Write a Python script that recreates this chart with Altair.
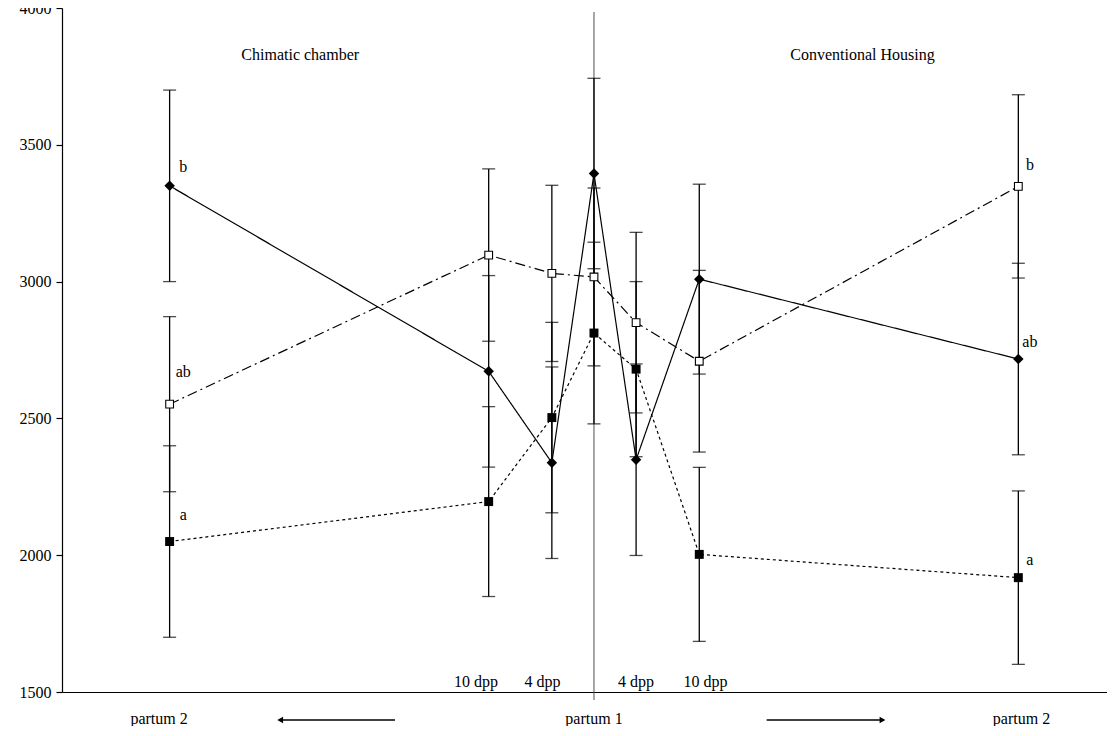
import altair as alt
import pandas as pd

FONT = "Liberation Serif"

# x positions (days relative to partum 1; partum 2 placed at the ends)
positions = [-40.3, -10, -4, 0, 4, 10, 40.3]

diamond_mean = [3350, 2672, 2338, 3395, 2349, 3009, 2717]
diamond_err = [350, 350, 350, 348, 350, 347, 350]
open_mean = [2552, 3097, 3030, 3017, 2850, 2709, 3348]
open_err = [320, 315, 322, 325, 330, 332, 335]
filled_mean = [2050, 2196, 2503, 2812, 2680, 2003, 1918]
filled_err = [350, 347, 348, 332, 320, 318, 317]

series_names = ["diamond", "open", "filled"]
series_dash = [[1, 0], [10, 4, 2, 4], [3, 3]]

letter_text = ["b", "ab", "a", "b", "ab", "a"]
letter_pos = [-39.0, -39.0, -39.0, 41.4, 41.4, 41.4]
letter_val = [3419, 2670, 2147, 3426, 2779, 1982]

group_titles = ["Chimatic chamber", "Conventional Housing"]
group_title_pos = [-27.9, 25.5]
group_title_val = [3828, 3828]

dpp_labels = ["10 dpp", "4 dpp", "4 dpp", "10 dpp"]
dpp_label_pos = [-11.2, -4.9, 4.0, 10.6]

partum_labels = ["partum 2", "partum 1", "partum 2"]
partum_label_pos = [-41.3, 0, 40.6]

arrow_start = [-18.9, 16.4]
arrow_end = [-29.8, 27.4]
arrow_head = ["triangle-left", "triangle-right"]

rows = []
for name, means, errs in [("diamond", diamond_mean, diamond_err),
                          ("open", open_mean, open_err),
                          ("filled", filled_mean, filled_err)]:
    for p, m, e in zip(positions, means, errs):
        rows.append(dict(series=name, pos=p, value=m, lo=m - e, hi=m + e))
df = pd.DataFrame(rows)

W, H = 1045, 684
xscale = alt.Scale(domain=[-50.52, 48.72], nice=False, zero=False)
yscale = alt.Scale(domain=[1500, 4000], nice=False, zero=False)

X = alt.X("pos:Q", scale=xscale,
          axis=alt.Axis(title=None, labels=False, ticks=False, grid=False,
                        domainColor="black", domainWidth=1.2))
Y = alt.Y("value:Q", scale=yscale,
          axis=alt.Axis(title=None, values=[1500, 2000, 2500, 3000, 3500, 4000],
                        format="d",
                        grid=False, tickSize=6, tickColor="black", tickWidth=1.2,
                        domainColor="black", domainWidth=1.2, labelFont=FONT,
                        labelFontSize=16, labelColor="black", labelPadding=5,
                        labelFlush=False))

base = alt.Chart(df)

center_line = alt.Chart(pd.DataFrame({"pos": [0]})).mark_rule(
    color="#505050", strokeWidth=1
).encode(x=alt.X("pos:Q", scale=xscale), y=alt.value(4), y2=alt.value(H + 8))

err_rule = base.mark_rule(color="black", strokeWidth=1.3).encode(
    x=X, y=alt.Y("lo:Q", scale=yscale), y2="hi:Q")
cap_lo = base.mark_tick(orient="horizontal", color="black", size=13, thickness=1.3).encode(
    x=alt.X("pos:Q", scale=xscale), y=alt.Y("lo:Q", scale=yscale))
cap_hi = base.mark_tick(orient="horizontal", color="black", size=13, thickness=1.3).encode(
    x=alt.X("pos:Q", scale=xscale), y=alt.Y("hi:Q", scale=yscale))

lines = base.mark_line(color="black", strokeWidth=1.2).encode(
    x=X, y=Y, detail="series:N",
    strokeDash=alt.StrokeDash("series:N",
                              scale=alt.Scale(domain=series_names, range=series_dash),
                              legend=None),
    order="pos:Q")

pts_d = base.transform_filter(alt.datum.series == "diamond").mark_point(
    shape="diamond", filled=True, color="black", size=110, opacity=1
).encode(x=X, y=Y)
pts_o = base.transform_filter(alt.datum.series == "open").mark_point(
    shape="square", filled=True, fill="white", stroke="black", strokeWidth=1.1,
    size=60, opacity=1
).encode(x=X, y=Y)
pts_f = base.transform_filter(alt.datum.series == "filled").mark_point(
    shape="square", filled=True, color="black", size=80, opacity=1
).encode(x=X, y=Y)

letters = alt.Chart(pd.DataFrame({"t": letter_text, "pos": letter_pos, "v": letter_val})).mark_text(
    font=FONT, fontSize=16, color="black", align="center", baseline="middle"
).encode(x=alt.X("pos:Q", scale=xscale), y=alt.Y("v:Q", scale=yscale), text="t:N")

titles = alt.Chart(pd.DataFrame({"t": group_titles, "pos": group_title_pos, "v": group_title_val})).mark_text(
    font=FONT, fontSize=16, color="black", align="center", baseline="middle"
).encode(x=alt.X("pos:Q", scale=xscale), y=alt.Y("v:Q", scale=yscale), text="t:N")

dpp = alt.Chart(pd.DataFrame({"t": dpp_labels, "pos": dpp_label_pos})).mark_text(
    font=FONT, fontSize=16, color="black", align="center", baseline="alphabetic"
).encode(x=alt.X("pos:Q", scale=xscale), y=alt.value(H - 5), text="t:N")

partum = alt.Chart(pd.DataFrame({"t": partum_labels, "pos": partum_label_pos})).mark_text(
    font=FONT, fontSize=16, color="black", align="center", baseline="middle"
).encode(x=alt.X("pos:Q", scale=xscale), y=alt.value(H + 27), text="t:N")

arrow_df = pd.DataFrame({"s": arrow_start, "e": arrow_end, "shape": arrow_head})
arrow_shaft = alt.Chart(arrow_df).mark_rule(color="black", strokeWidth=1.6).encode(
    x=alt.X("s:Q", scale=xscale), x2="e:Q", y=alt.value(H + 28))
arrow_tip = alt.Chart(arrow_df).mark_point(filled=True, color="black", size=45, opacity=1).encode(
    x=alt.X("e:Q", scale=xscale), y=alt.value(H + 28),
    shape=alt.Shape("shape:N", scale=None))

chart = alt.layer(
    center_line, err_rule, cap_lo, cap_hi, lines, pts_o, pts_f, pts_d,
    letters, titles, dpp, partum, arrow_shaft, arrow_tip
).properties(
    width=W, height=H,
    autosize=alt.AutoSizeParams(type="none"),
    padding={"left": 54, "top": 0, "right": 0, "bottom": 34},
    background="white"
).configure_view(stroke=None)

chart.save("out.html", embed_options={"renderer": "svg", "actions": False})
